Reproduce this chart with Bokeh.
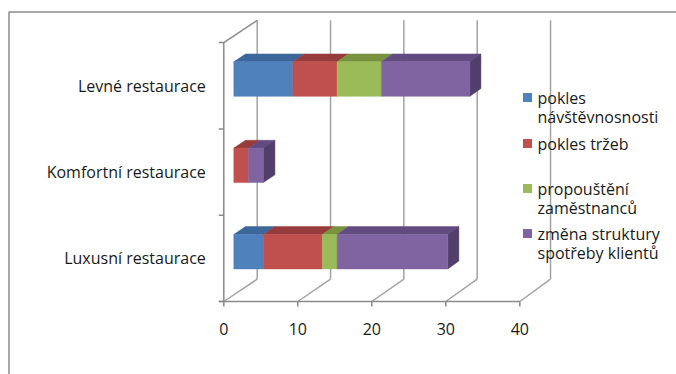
from bokeh.plotting import figure
from bokeh.models import Range1d
from bokeh.embed import file_html
from bokeh.resources import INLINE
from bokeh.core.properties import value

# --- data -------------------------------------------------------------
categories = ["Luxusní restaurace", "Komfortní restaurace", "Levné restaurace"]
series_labels = [
    "pokles\nnávštěvnosnosti",
    "pokles tržeb",
    "propouštění\nzaměstnanců",
    "změna struktury\nspotřeby klientů",
]
pokles_navstevnosti = [4, 0, 8]
pokles_trzeb = [8, 2, 6]
propousteni_zamestnancu = [2, 0, 6]
zmena_struktury = [15, 2, 12]
x_ticks = [0, 10, 20, 30, 40]

series_values = [pokles_navstevnosti, pokles_trzeb, propousteni_zamestnancu, zmena_struktury]

# --- styling ----------------------------------------------------------
front_colors = ["#4F81BD", "#C0504D", "#9BBB59", "#8064A2"]
top_colors = ["#3C679B", "#963C3A", "#78923F", "#624B80"]
side_colors = ["#34598A", "#853432", "#6A8238", "#513E6B"]
grid_color = "#a3a3a3"
axis_color = "#8a8a8a"
FONT = value("Open Sans")
FONT_SIZE = "16px"

# --- canvas geometry (pixels) ----------------------------------------
W, H = 676, 374
X0_PX, SX = 223.3, 7.4        # value 0 on the front floor edge, pixels per unit
Y0_PX, SY = 301.0, 86.3       # bottom of category axis, pixels per category
DEPTH_PX = (33.4, -22.3)      # screen offset from front to back wall
PERSP = 0.009                 # slight shrink of the value scale towards the back
BAR_D0, BAR_D1 = 0.30, 0.65   # bar depth extent (0 = front, 1 = back wall)
BAR_HALF = 0.20               # half thickness of a bar in category units

DX = DEPTH_PX[0] / SX
DY = -DEPTH_PX[1] / SY


def px_x(x_px):
    return (x_px - X0_PX) / SX


def px_y(y_px):
    return -0.5 + (Y0_PX - y_px) / SY


def proj(v, i, d):
    """Oblique projection of (value, category, depth) to plot coordinates."""
    return v * (1 - PERSP * d) + d * DX, i + d * DY


p = figure(
    width=W, height=H,
    x_range=Range1d(px_x(0), px_x(W)),
    y_range=Range1d(px_y(H), px_y(0)),
    x_axis_type=None, y_axis_type=None,
    output_backend="svg", toolbar_location=None,
    min_border=0,
)
p.grid.visible = False
p.outline_line_color = None
p.background_fill_color = "white"

# outer chart border (left and top edges)
p.line([px_x(8.5), px_x(8.5), px_x(W + 5)], [px_y(H + 5), px_y(11.5), px_y(11.5)],
       line_color="#8c8c8c", line_width=1.5)

n_cat = len(categories)
cat_lo, cat_hi = -0.5, n_cat - 0.5

# back wall gridlines and floor gridlines
gx, gy = [], []
for t in x_ticks:
    a = proj(t, cat_lo, 1)
    b = proj(t, cat_hi, 1)
    gx.append([a[0], b[0]])
    gy.append([a[1], b[1]])
    c = proj(t, cat_lo, 0)
    gx.append([c[0], a[0]])
    gy.append([c[1], a[1]])
p.multi_line(gx, gy, line_color=grid_color, line_width=1.5)

# side wall edges
s0 = proj(0, cat_lo, 0)
s1 = proj(0, cat_hi, 0)
s2 = proj(0, cat_hi, 1)
p.line([s0[0], s1[0], s2[0]], [s0[1], s1[1], s2[1]], line_color=axis_color, line_width=1.5)

# floor front edge with tick marks
tick_len_x = 5 / SX
tick_len_y = 5 / SY
f1 = proj(max(x_ticks), cat_lo, 0)
p.line([-tick_len_x, f1[0]], [cat_lo, cat_lo], line_color=axis_color, line_width=1.5)
p.multi_line([[t, t] for t in x_ticks], [[cat_lo, cat_lo - tick_len_y] for _ in x_ticks],
             line_color=axis_color, line_width=1.5)
cat_ticks = [cat_lo + k for k in range(n_cat + 1)]
p.multi_line([[0, -tick_len_x] for _ in cat_ticks], [[c, c] for c in cat_ticks],
             line_color=axis_color, line_width=1.5)

# stacked 3D bars
front_xs, front_ys, front_c = [], [], []
top_xs, top_ys, top_c = [], [], []
side_xs, side_ys, side_c = [], [], []
for ci in range(n_cat):
    start = 0.0
    last = None
    for si, vals in enumerate(series_values):
        v = vals[ci]
        if v <= 0:
            continue
        end = start + v
        lo, hi = ci - BAR_HALF, ci + BAR_HALF
        corners = [proj(start, lo, BAR_D0), proj(end, lo, BAR_D0),
                   proj(end, hi, BAR_D0), proj(start, hi, BAR_D0)]
        front_xs.append([c[0] for c in corners])
        front_ys.append([c[1] for c in corners])
        front_c.append(front_colors[si])
        corners = [proj(start, hi, BAR_D0), proj(end, hi, BAR_D0),
                   proj(end, hi, BAR_D1), proj(start, hi, BAR_D1)]
        top_xs.append([c[0] for c in corners])
        top_ys.append([c[1] for c in corners])
        top_c.append(top_colors[si])
        last = (si, end, lo, hi)
        start = end
    if last is not None:
        si, end, lo, hi = last
        corners = [proj(end, lo, BAR_D0), proj(end, hi, BAR_D0),
                   proj(end, hi, BAR_D1), proj(end, lo, BAR_D1)]
        side_xs.append([c[0] for c in corners])
        side_ys.append([c[1] for c in corners])
        side_c.append(side_colors[si])

p.patches(top_xs, top_ys, fill_color=top_c, line_color=top_c, line_width=0.5)
p.patches(side_xs, side_ys, fill_color=side_c, line_color=side_c, line_width=0.5)
p.patches(front_xs, front_ys, fill_color=front_c, line_color=front_c, line_width=0.5)

# value axis labels
p.text(x=x_ticks, y=[cat_lo - 27 / SY] * len(x_ticks), text=[str(t) for t in x_ticks],
       text_align="center", text_baseline="middle", text_font=FONT,
       text_font_size=FONT_SIZE, text_color="#1a1a1a")

# category labels
p.text(x=[-18 / SX] * n_cat, y=list(range(n_cat)), text=categories,
       text_align="right", text_baseline="middle", text_font=FONT,
       text_font_size=FONT_SIZE, text_color="#1a1a1a")

# legend: colour keys and wrapped entry texts, one text glyph per line
legend_y_px = [97, 143, 188, 233]   # centre of each entry's first line
LINE_PX = 19.5
legend_sq_x = px_x(527)
legend_txt_x = px_x(537)
p.scatter(x=[legend_sq_x] * 4, y=[px_y(y) for y in legend_y_px], marker="square",
          size=9, fill_color=front_colors, line_color=None)
lx, ly, lt = [], [], []
for label, y0 in zip(series_labels, legend_y_px):
    for k, line in enumerate(label.split("\n")):
        lx.append(legend_txt_x)
        ly.append(px_y(y0 + k * LINE_PX))
        lt.append(line)
p.text(x=lx, y=ly, text=lt, text_align="left", text_baseline="middle",
       text_font=FONT, text_font_size=FONT_SIZE, text_color="#1a1a1a")

open("out.html", "w").write(file_html(p, INLINE))
